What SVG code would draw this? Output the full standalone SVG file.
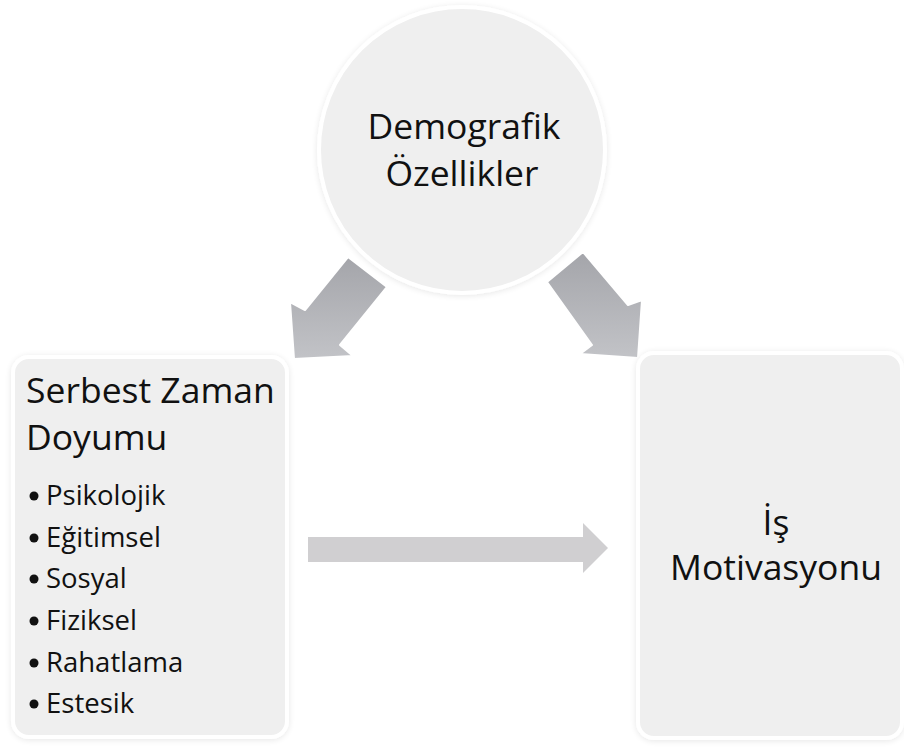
<svg xmlns="http://www.w3.org/2000/svg" width="904" height="747" viewBox="0 0 904 747">
  <defs>
    <linearGradient id="arrowGrad" x1="0" y1="0" x2="0" y2="1">
      <stop offset="0" stop-color="#a4a5aa"/>
      <stop offset="1" stop-color="#c2c3c7"/>
    </linearGradient>
    <filter id="soft" x="-10%" y="-10%" width="120%" height="120%">
      <feGaussianBlur in="SourceAlpha" stdDeviation="3"/>
      <feOffset dx="0" dy="1"/>
      <feComponentTransfer><feFuncA type="linear" slope="0.10"/></feComponentTransfer>
      <feMerge><feMergeNode/><feMergeNode in="SourceGraphic"/></feMerge>
    </filter>
  </defs>
  <style>
    .node { fill: #efefef; stroke: #ffffff; stroke-width: 4; }
    .title { font-family: "Open Sans", "Noto Sans", sans-serif; font-size: 35.5px; fill: #111111; }
    .item { font-family: "Open Sans", "Noto Sans", sans-serif; font-size: 27.5px; fill: #111111; }
    .dot { fill: #111111; }
    .bigarrow { fill: url(#arrowGrad); stroke: #ffffff; stroke-width: 2; stroke-linejoin: round; }
    .flat { fill: #d0cfd1; }
  </style>
  <rect width="904" height="747" fill="#ffffff"/>

  <g id="connectors">
    <polygon class="bigarrow" points="348,257 305,310 290,302 294,359 353,356 340,345 387,287"/>
    <polygon class="bigarrow" points="583,252 628,305 642,300 638,358 580,354 592,345 547,282"/>
    <polygon class="flat" points="308,537 583,537 583,523 608,548 583,573 583,562 308,562"/>
  </g>

  <g id="demografik">
    <circle class="node" cx="462" cy="150" r="143" filter="url(#soft)"/>
    <text class="title" x="464" y="139" text-anchor="middle">Demografik</text>
    <text class="title" x="462" y="186" text-anchor="middle">Özellikler</text>
  </g>

  <g id="serbest-zaman">
    <rect class="node" x="13" y="357" width="274" height="380" rx="16" filter="url(#soft)"/>
    <text class="title" x="26" y="403">Serbest Zaman</text>
    <text class="title" x="26" y="450">Doyumu</text>
    <circle class="dot" cx="34" cy="496" r="4.5"/>
    <text class="item" x="46" y="505">Psikolojik</text>
    <circle class="dot" cx="34" cy="538" r="4.5"/>
    <text class="item" x="46" y="547">Eğitimsel</text>
    <circle class="dot" cx="34" cy="579" r="4.5"/>
    <text class="item" x="46" y="588">Sosyal</text>
    <circle class="dot" cx="34" cy="621" r="4.5"/>
    <text class="item" x="46" y="630">Fiziksel</text>
    <circle class="dot" cx="34" cy="663" r="4.5"/>
    <text class="item" x="46" y="672">Rahatlama</text>
    <circle class="dot" cx="34" cy="704" r="4.5"/>
    <text class="item" x="46" y="713">Estesik</text>
  </g>

  <g id="is-motivasyonu">
    <rect class="node" x="638" y="353" width="264" height="385" rx="16" filter="url(#soft)"/>
    <text class="title" x="776" y="535" text-anchor="middle">İş</text>
    <text class="title" x="776" y="580" text-anchor="middle">Motivasyonu</text>
  </g>
</svg>
